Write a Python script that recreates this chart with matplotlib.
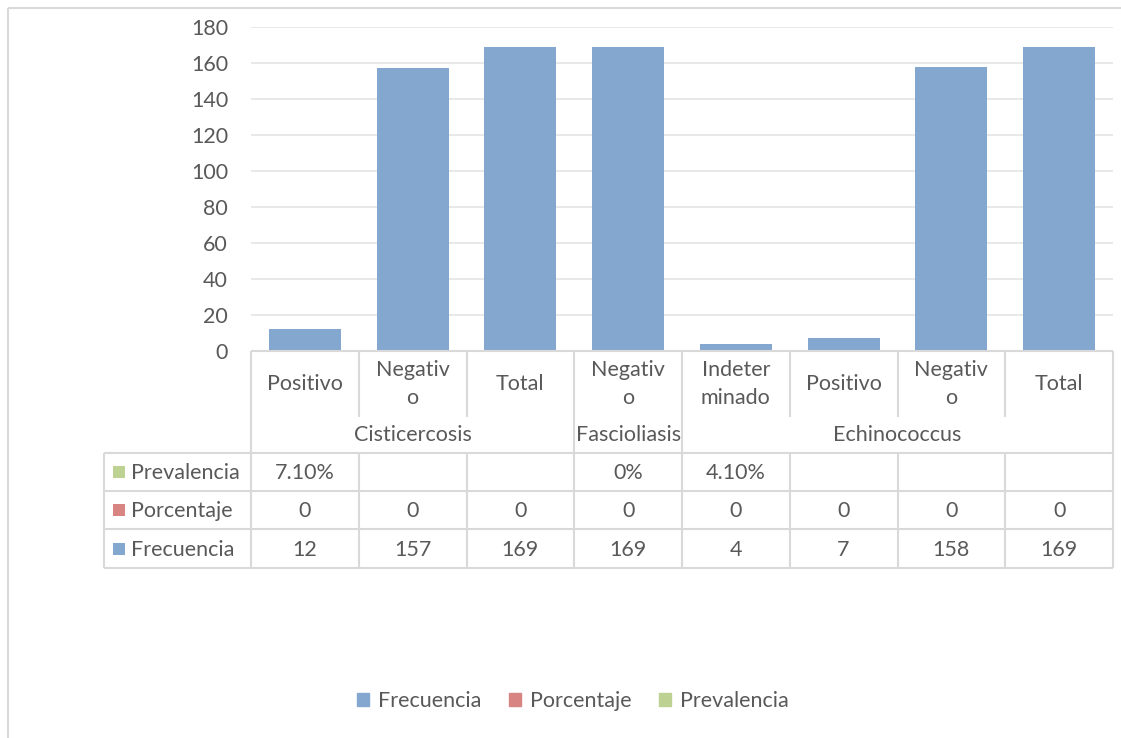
import matplotlib
matplotlib.use("Agg")
import matplotlib.pyplot as plt
from matplotlib.patches import Patch, Rectangle

# ---- data ----
categories = ["Positivo", "Negativ\no", "Total", "Negativ\no", "Indeter\nminado",
              "Positivo", "Negativ\no", "Total"]
groups = ["Cisticercosis", "Fascioliasis", "Echinococcus"]
group_sizes = [3, 1, 4]
frecuencia = [12, 157, 169, 169, 4, 7, 158, 169]
porcentaje = [0, 0, 0, 0, 0, 0, 0, 0]
prevalencia_labels = ["7.10%", "", "", "0%", "4.10%", "", "", ""]
series_names = ["Frecuencia", "Porcentaje", "Prevalencia"]
yticks = [0, 20, 40, 60, 80, 100, 120, 140, 160, 180]

# ---- style ----
BLUE = "#84A7D0"
RED = "#D78483"
GREEN = "#BDD192"
TXT = "#595959"
LINE = "#D9D9D9"
GRID = "#E8E8E8"
FONT = "Lato"
FS = 15.5

W, H = 1121, 738
fig = plt.figure(figsize=(W / 100, H / 100), dpi=100)
plt.rcParams['font.family'] = [FONT, 'DejaVu Sans']

# plot area in pixel coords
L, R, T, B = 251, 1113, 27, 351
ax = fig.add_axes([L / W, 1 - B / H, (R - L) / W, (B - T) / H])
n = len(categories)
ax.bar(range(n), frecuencia, width=0.67, color=BLUE, zorder=3)
ax.set_xlim(-0.5, n - 0.5)
ax.set_ylim(0, 180)
ax.set_yticks(yticks)
ax.set_yticklabels([str(v) for v in yticks], fontsize=FS, color=TXT, family=FONT)
ax.tick_params(axis='y', length=0, pad=16.5)
ax.set_xticks([])
for s in ax.spines.values():
    s.set_visible(False)
for v in yticks[1:]:
    ax.axhline(v, color=GRID, lw=1.4, zorder=1)

# overlay for table, in pixel coords
ov = fig.add_axes([0, 0, 1, 1])
ov.set_xlim(0, W)
ov.set_ylim(H, 0)
ov.axis('off')
ov.patch.set_alpha(0)

def hline(y, x0, x1):
    ov.plot([x0, x1], [y, y], color=LINE, lw=1.5, solid_capstyle='butt')

def vline(x, y0, y1):
    ov.plot([x, x], [y0, y1], color=LINE, lw=1.5, solid_capstyle='butt')

cw = (R - L) / n
xs = [L + i * cw for i in range(n + 1)]
row1_top, row1_bot = 351, 417
grp_bot = 453
rows_y = [453, 491, 529, 568]
TL = 104

# border of chart
vline(8, 8, H)
hline(8, 8, W)

# table top
hline(row1_top, L, R)
for x in xs:
    vline(x, row1_top, row1_bot)
# group boundaries
gb = [0]
for g in group_sizes:
    gb.append(gb[-1] + g)
for k in gb:
    vline(xs[k], row1_bot, grp_bot)
# data rows
for y in rows_y:
    hline(y, TL, R)
for x in [TL] + xs:
    vline(x, rows_y[0], rows_y[-1])

# category labels
for i, c in enumerate(categories):
    ov.text((xs[i] + xs[i + 1]) / 2, 384, c, ha='center', va='center',
            fontsize=FS, color=TXT, linespacing=1.45)
# group labels
for gi, g in enumerate(groups):
    cx = (xs[gb[gi]] + xs[gb[gi + 1]]) / 2
    ov.text(cx, 435, g, ha='center', va='center', fontsize=FS, color=TXT)

# data rows: Prevalencia, Porcentaje, Frecuencia
row_names = ["Prevalencia", "Porcentaje", "Frecuencia"]
row_cols = [GREEN, RED, BLUE]
row_vals = [prevalencia_labels, [str(v) for v in porcentaje], [str(v) for v in frecuencia]]
for r in range(3):
    yc = (rows_y[r] + rows_y[r + 1]) / 2 + 1
    ov.add_patch(Rectangle((113, yc - 7), 12, 12, color=row_cols[r], lw=0))
    ov.text(131, yc, row_names[r], ha='left', va='center', fontsize=FS, color=TXT)
    for i, v in enumerate(row_vals[r]):
        ov.text((xs[i] + xs[i + 1]) / 2, yc, v, ha='center', va='center',
                fontsize=FS, color=TXT)

# legend
handles = [Patch(color=BLUE), Patch(color=RED), Patch(color=GREEN)]
leg = fig.legend(handles, series_names, loc='center', ncol=3,
                 bbox_to_anchor=(573 / W, 1 - 701 / H), frameon=False,
                 handlelength=0.55, handleheight=0.55, handletextpad=0.4,
                 columnspacing=1.3, prop={'family': FONT, 'size': FS})
for t in leg.get_texts():
    t.set_color(TXT)

fig.savefig("out.png", dpi=100)
